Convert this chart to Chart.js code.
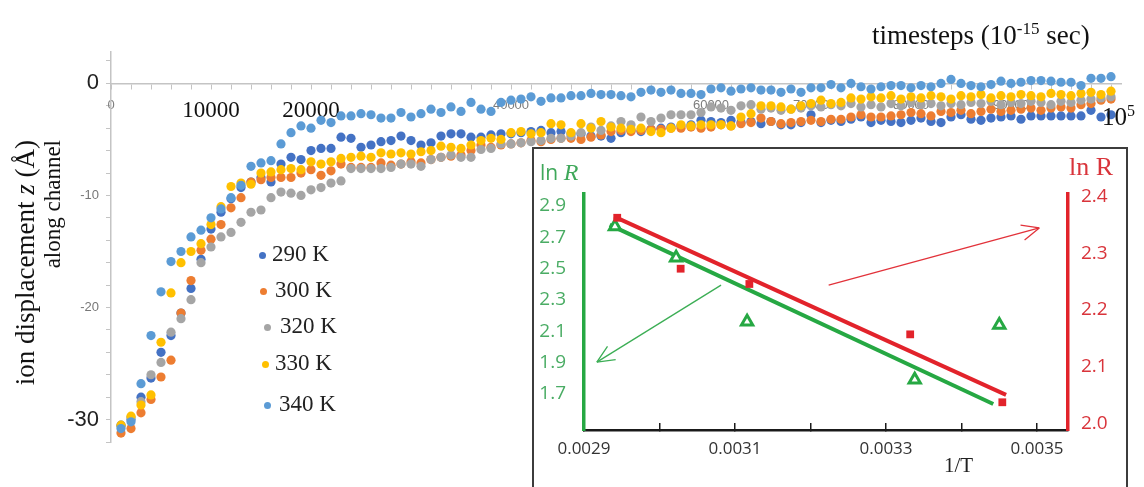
<!DOCTYPE html>
<html>
<head>
<meta charset="utf-8">
<title>Ion displacement along channel</title>
<script src="https://cdn.jsdelivr.net/npm/chart.js@4.4.1/dist/chart.umd.min.js"></script>
<style>
  body { margin: 0; background: #fff; }
  #page { position: relative; width: 1144px; height: 487px; overflow: hidden; background: #fff; }
  #mainWrap { position: absolute; left: 0; top: 0; width: 1144px; height: 487px; }
  #yTitle {
    position: absolute; left: -90px; top: 242px; width: 260px; height: 56px;
    transform: rotate(-90deg); text-align: right; white-space: nowrap;
    font: 23px/26px "Liberation Serif", serif; color: #111;
  }
  #yTitle .first { font-size: 27px; }
  #xTitle { position: absolute; left: 872px; top: 19px; font: 27px "Liberation Serif", serif; color: #111; white-space: nowrap; }
  #xTitle sup { font-size: 17px; }
  #xEnd { position: absolute; left: 1102px; top: 102px; font: 25px "Liberation Serif", serif; color: #111; white-space: nowrap; }
  #xEnd sup { font-size: 16px; }
  .legend-item { position: absolute; height: 28px; line-height: 28px; font: 23px "Liberation Serif", serif; color: #222; white-space: nowrap; }
  .legend-dot { position: absolute; width: 7px; height: 7px; border-radius: 50%; }
  #insetBox { position: absolute; left: 532px; top: 147px; width: 592px; height: 345px; border: 2px solid #3c3c3c; background: #fff; }
  #insetWrap { position: absolute; left: 0; top: 0; width: 592px; height: 340px; }
  #lnLeft { position: absolute; left: 6px; top: 9px; font: 21px "Open Sans", sans-serif; color: #3fa85a; }
  #lnLeft i { font: italic 24px "Liberation Serif", serif; }
  #lnRight { position: absolute; left: 535px; top: 3px; font: 26px "Liberation Serif", serif; color: #d9343b; }
  #invT { position: absolute; left: 410px; top: 304px; font: 21px "Liberation Serif", serif; color: #222; }
</style>
</head>
<body>
<div id="page">
  <div id="mainWrap"><canvas id="mainChart"></canvas></div>
  <div id="yTitle"><span class="first">ion displacement <i>z</i> (Å)</span><br>along channel</div>
  <div id="xTitle">timesteps (10<sup>-15</sup> sec)</div>
  <div id="xEnd">10<sup>5</sup></div>
  <div id="legend"></div>
  <div id="insetBox">
    <div id="insetWrap"><canvas id="insetChart"></canvas></div>
    <div id="lnLeft">ln <i>R</i></div>
    <div id="lnRight">ln R</div>
    <div id="invT">1/T</div>
  </div>
</div>
<script>
// ---- main chart data: displacement z (Å) sampled every 1000 timesteps ----
const timesteps = Array.from({ length: 100 }, (_, i) => (i + 1) * 1000);

const z290 = [-30.5,-30.0,-28.0,-26.3,-24.0,-22.5,-20.5,-18.3,-15.7,-13.0,
  -11.5,-10.3,-9.3,-8.8,-8.4,-8.8,-7.2,-6.6,-6.8,-6.0,
  -5.8,-5.8,-4.8,-4.9,-5.7,-5.5,-5.2,-5.1,-4.7,-5.1,
  -5.5,-5.3,-4.7,-4.5,-4.5,-4.8,-4.8,-4.6,-4.5,-4.5,
  -4.4,-4.3,-4.2,-4.4,-4.3,-4.5,-4.5,-4.7,-4.7,-4.9,
  -4.4,-4.2,-4.3,-4.1,-4.0,-3.9,-3.8,-3.7,-3.3,-3.4,
  -3.5,-3.3,-3.5,-3.4,-3.6,-3.4,-3.7,-3.7,-3.5,-2.8,
  -3.5,-3.3,-3.4,-3.2,-3.0,-3.5,-3.3,-3.4,-3.5,-3.3,
  -3.1,-3.4,-3.5,-3.0,-2.8,-3.2,-3.3,-3.1,-3.0,-2.9,
  -3.2,-2.9,-2.9,-2.9,-2.9,-2.9,-2.9,-2.4,-3.0,-2.8];

const z300 = [-31.2,-30.8,-29.4,-28.2,-26.2,-24.7,-20.5,-17.6,-14.9,-13.9,
  -12.6,-11.1,-10.2,-8.8,-8.6,-8.4,-8.4,-8.4,-8.0,-7.7,
  -8.2,-7.8,-7.2,-7.5,-7.5,-7.5,-7.1,-7.3,-7.2,-7.0,
  -7.1,-6.8,-6.6,-6.5,-6.4,-6.0,-5.5,-5.7,-5.5,-5.4,
  -5.3,-5.1,-5.2,-5.0,-4.9,-4.9,-5.0,-4.8,-4.6,-4.3,
  -4.2,-4.3,-4.2,-4.1,-4.1,-4.0,-4.0,-3.9,-4.0,-3.9,
  -3.7,-3.8,-3.6,-3.5,-3.1,-3.4,-3.6,-3.5,-3.4,-3.3,
  -3.4,-3.2,-3.2,-3.0,-2.8,-3.0,-3.0,-2.9,-2.8,-2.6,
  -2.7,-2.9,-2.5,-2.6,-2.4,-2.7,-2.5,-2.3,-2.5,-2.4,
  -2.3,-2.2,-2.4,-2.2,-2.1,-2.2,-1.9,-1.8,-1.5,-1.4];

const z320 = [-30.6,-29.8,-28.4,-26.0,-24.9,-22.2,-21.0,-19.3,-16.0,-14.6,
  -13.7,-13.3,-12.4,-11.5,-11.3,-10.2,-9.7,-9.8,-10.0,-9.5,
  -9.3,-8.9,-8.7,-7.6,-7.6,-7.6,-7.6,-7.5,-7.2,-7.2,
  -7.4,-6.8,-6.6,-6.4,-6.6,-6.6,-5.9,-5.8,-5.4,-5.4,
  -5.3,-5.2,-5.1,-4.9,-4.9,-4.7,-4.4,-3.9,-4.2,-3.8,
  -3.4,-3.7,-3.0,-3.4,-3.1,-2.8,-2.8,-2.8,-2.6,-2.1,
  -2.2,-2.4,-2.0,-1.9,-2.3,-2.2,-2.4,-2.3,-2.2,-2.0,
  -2.1,-1.9,-2.0,-1.8,-2.1,-1.9,-2.1,-1.8,-2.0,-1.7,
  -1.9,-1.8,-2.0,-1.8,-1.9,-1.7,-1.8,-1.6,-1.9,-1.7,
  -1.8,-1.6,-1.7,-1.9,-1.6,-1.7,-1.5,-1.4,-1.3,-1.2];

const z330 = [-30.5,-29.7,-28.7,-27.8,-23.1,-18.7,-16.0,-15.0,-14.3,-12.6,
  -11.0,-9.2,-8.9,-9.0,-8.0,-7.9,-7.7,-7.6,-7.7,-7.0,
  -7.2,-7.0,-6.7,-6.6,-6.5,-6.6,-6.2,-6.3,-6.2,-6.3,
  -6.1,-6.0,-5.6,-5.7,-5.8,-5.5,-5.1,-4.9,-5.0,-4.4,
  -4.3,-4.5,-4.4,-3.6,-3.7,-4.4,-3.6,-4.0,-3.4,-3.9,
  -4.0,-4.1,-4.0,-4.3,-4.4,-4.0,-3.7,-3.8,-3.7,-3.7,
  -3.7,-3.8,-3.0,-2.7,-2.0,-2.0,-2.1,-2.3,-2.0,-1.8,
  -1.5,-1.8,-1.7,-1.3,-1.4,-1.2,-1.3,-1.1,-1.4,-1.2,
  -1.3,-1.1,-1.2,-1.4,-1.1,-1.2,-1.0,-1.3,-1.1,-1.2,
  -1.0,-1.1,-1.2,-0.9,-1.0,-1.1,-0.9,-0.8,-1.0,-0.7];

const z340 = [-30.8,-30.2,-26.8,-22.5,-18.6,-15.9,-15.0,-13.7,-13.1,-12.0,
  -11.2,-10.2,-9.1,-7.4,-7.1,-6.9,-5.4,-4.4,-3.8,-4.0,
  -3.3,-3.5,-2.9,-2.9,-2.7,-2.8,-3.1,-3.1,-2.6,-3.0,
  -2.7,-2.3,-2.6,-2.1,-2.5,-1.7,-2.3,-2.5,-1.7,-1.5,
  -1.4,-1.2,-1.6,-1.3,-1.3,-1.1,-1.1,-0.9,-1.0,-1.0,
  -1.1,-1.2,-0.8,-0.6,-0.8,-0.6,-0.9,-0.9,-1.0,-0.5,
  -0.4,-0.7,-0.5,-0.4,-0.6,-0.6,-0.8,-0.5,-0.8,-0.4,
  -0.4,-0.1,-0.4,0.0,-0.3,-0.5,-0.3,-0.2,-0.2,-0.4,
  -0.2,-0.3,0.0,0.35,0.0,-0.2,-0.3,-0.1,0.2,0.0,
  0.1,0.25,0.25,0.2,0.1,0.1,-0.2,0.45,0.45,0.6];

const seriesNames = ['290 K', '300 K', '320 K', '330 K', '340 K'];
const seriesValues = [z290, z300, z320, z330, z340];
const seriesColors = ['#4472c4', '#ed7d31', '#a5a5a5', '#ffc000', '#5b9bd5'];
// legend placement (dot x, text x, row centre y)
const legendDotX = [262, 263, 267, 265, 267];
const legendTextX = [272, 275, 280, 275, 279];
const legendRowY = [255, 291, 327, 364, 405];

// x axis: minor tick every 2000 timesteps, labels at a few of them
const xMinorTicks = Array.from({ length: 51 }, (_, i) => i * 2000);
const xTickValues = [0, 10000, 20000, 40000, 60000, 70000, 80000, 90000];
const xTickText = ['0', '10000', '20000', '40000', '60000', '70000', '80000', '90000'];
const xBigTicks = [10000, 20000];
const yTickValues = [0, -10, -20, -30];
const yBigTicks = [0, -30];

// ---- inset data: ln R against 1/T ----
const invTGreen = [0.002941, 0.003022, 0.003116, 0.003338, 0.003450];
const lnRGreen = [2.77, 2.57, 2.16, 1.79, 2.14];
const invTRed = [0.002944, 0.003028, 0.003119, 0.003332, 0.003454];
const lnRRed = [2.363, 2.273, 2.246, 2.157, 2.037];
const greenFitX = [0.002934, 0.003442];
const greenFitY = [2.78, 1.635];
const redFitX = [0.002940, 0.003459];
const redFitY = [2.365, 2.05];
const greenArrowX = [0.0030815, 0.002917];
const greenArrowY = [2.395, 1.903];
const redArrowX = [0.003224, 0.003503];
const redArrowY = [2.244, 2.345];
const insetXTicks = [0.0029, 0.0030, 0.0031, 0.0032, 0.0033, 0.0034, 0.0035];
const insetXLabels = ['0.0029', '', '0.0031', '', '0.0033', '', '0.0035'];
const leftTicks = [1.7, 1.9, 2.1, 2.3, 2.5, 2.7, 2.9];
const rightTicks = [2.0, 2.1, 2.2, 2.3, 2.4];

const green = '#26a843';
const greenText = '#4aac64';
const red = '#e2232b';
const redText = '#d9343b';

function pairUp(xs, ys) {
    return xs.map((x, i) => ({ x: x, y: ys[i] }));
}

// legend
const legendEl = document.getElementById('legend');
seriesNames.forEach((name, i) => {
    const dot = document.createElement('span');
    dot.className = 'legend-dot';
    dot.style.left = (legendDotX[i] - 3) + 'px';
    dot.style.top = (legendRowY[i] - 3) + 'px';
    dot.style.background = seriesColors[i];
    legendEl.appendChild(dot);
    const item = document.createElement('div');
    item.className = 'legend-item';
    item.style.left = legendTextX[i] + 'px';
    item.style.top = (legendRowY[i] - 14) + 'px';
    item.textContent = name;
    legendEl.appendChild(item);
});

// main scatter chart
const mainDatasets = seriesNames.map((name, i) => ({
    label: name,
    data: timesteps.map((t, k) => ({ x: t, y: seriesValues[i][k] })),
    backgroundColor: seriesColors[i],
    borderColor: seriesColors[i],
    pointRadius: 4.6,
    pointBorderWidth: 0,
    order: seriesNames.length - i
}));

new Chart(document.getElementById('mainChart'), {
    type: 'scatter',
    data: { datasets: mainDatasets },
    options: {
        responsive: true,
        maintainAspectRatio: false,
        animation: false,
        events: [],
        layout: { padding: { top: 52, right: 23, bottom: 45, left: 0 } },
        plugins: { legend: { display: false }, tooltip: { enabled: false } },
        scales: {
            x: {
                type: 'linear',
                position: { y: 0 },
                min: 0,
                max: 101000,
                afterBuildTicks: (scale) => { scale.ticks = xMinorTicks.map(v => ({ value: v })); },
                border: { color: '#c4c4c4', width: 1.5 },
                grid: { drawOnChartArea: false, color: '#c4c4c4', tickLength: 5 },
                ticks: {
                    autoSkip: false,
                    maxRotation: 0,
                    padding: 9,
                    callback: (v) => {
                        const idx = xTickValues.indexOf(v);
                        return idx >= 0 ? xTickText[idx] : '';
                    },
                    font: (ctx) => (ctx.tick && xBigTicks.includes(ctx.tick.value))
                        ? { family: 'Liberation Serif', size: 23 }
                        : { family: 'Liberation Sans', size: 13 },
                    color: (ctx) => (ctx.tick && xBigTicks.includes(ctx.tick.value)) ? '#111' : '#7d7d7d'
                }
            },
            y: {
                type: 'linear',
                min: -32,
                max: 2.8,
                afterFit: (scale) => { scale.width = 111; },
                border: { color: '#c4c4c4', width: 1.5 },
                grid: { drawOnChartArea: false, color: '#c4c4c4', tickLength: 5 },
                ticks: {
                    stepSize: 2,
                    includeBounds: false,
                    autoSkip: false,
                    padding: 7,
                    callback: (v) => yTickValues.includes(v) ? String(v) : '',
                    font: (ctx) => (ctx.tick && yBigTicks.includes(ctx.tick.value))
                        ? { family: 'Liberation Sans', size: 22 }
                        : { family: 'Liberation Sans', size: 13 },
                    color: (ctx) => (ctx.tick && yBigTicks.includes(ctx.tick.value)) ? '#222' : '#777'
                }
            }
        }
    }
});

// open V arrowheads at the end of datasets flagged with arrow: true
const arrowHeads = {
    id: 'arrowHeads',
    afterDatasetsDraw(chart) {
        const ctx = chart.ctx;
        chart.data.datasets.forEach((ds, i) => {
            if (!ds.arrow) return;
            const pts = chart.getDatasetMeta(i).data;
            const a = pts[pts.length - 2];
            const b = pts[pts.length - 1];
            const ang = Math.atan2(b.y - a.y, b.x - a.x);
            ctx.save();
            ctx.strokeStyle = ds.borderColor;
            ctx.lineWidth = ds.borderWidth;
            ctx.beginPath();
            [-0.42, 0.42].forEach(d => {
                ctx.moveTo(b.x, b.y);
                ctx.lineTo(b.x - 19 * Math.cos(ang + d), b.y - 19 * Math.sin(ang + d));
            });
            ctx.stroke();
            ctx.restore();
        });
    }
};

new Chart(document.getElementById('insetChart'), {
    type: 'scatter',
    data: {
        datasets: [
            { label: 'ln R (left)', data: pairUp(invTGreen, lnRGreen), yAxisID: 'yL',
              pointStyle: 'triangle', pointRadius: 6.5, pointBorderWidth: 3,
              borderColor: green, backgroundColor: '#fff', order: 1 },
            { label: 'ln R (right)', data: pairUp(invTRed, lnRRed), yAxisID: 'yR',
              pointStyle: 'rect', pointRadius: 5.5, pointBorderWidth: 0,
              borderColor: red, backgroundColor: red, order: 0 },
            { label: 'fit left', data: pairUp(greenFitX, greenFitY), yAxisID: 'yL', showLine: true,
              borderColor: green, borderWidth: 4, pointRadius: 0, order: 3 },
            { label: 'fit right', data: pairUp(redFitX, redFitY), yAxisID: 'yR', showLine: true,
              borderColor: red, borderWidth: 4, pointRadius: 0, order: 2 },
            { label: 'arrow left', data: pairUp(greenArrowX, greenArrowY), yAxisID: 'yL', showLine: true,
              borderColor: '#3cae55', borderWidth: 1.3, pointRadius: 0, arrow: true, order: 4 },
            { label: 'arrow right', data: pairUp(redArrowX, redArrowY), yAxisID: 'yR', showLine: true,
              borderColor: '#e2323a', borderWidth: 1.3, pointRadius: 0, arrow: true, order: 5 }
        ]
    },
    options: {
        responsive: true,
        maintainAspectRatio: false,
        animation: false,
        events: [],
        layout: { padding: { top: 45, right: 0, bottom: 0, left: 0 } },
        plugins: { legend: { display: false }, tooltip: { enabled: false } },
        scales: {
            x: {
                type: 'linear',
                min: 0.0029,
                max: 0.003541,
                afterFit: (scale) => { scale.height = 59; },
                afterBuildTicks: (scale) => { scale.ticks = insetXTicks.map(v => ({ value: v })); },
                border: { color: '#1a1a1a', width: 2.5 },
                grid: { drawOnChartArea: false, color: '#1a1a1a', lineWidth: 1.5, tickLength: -7 },
                ticks: {
                    autoSkip: false,
                    maxRotation: 0,
                    padding: 16,
                    callback: (v, i) => insetXLabels[i],
                    font: { family: 'Open Sans', size: 17 },
                    color: '#333'
                }
            },
            yL: {
                type: 'linear',
                position: 'left',
                min: 1.469,
                max: 2.977,
                afterFit: (scale) => { scale.width = 50; },
                afterBuildTicks: (scale) => { scale.ticks = leftTicks.map(v => ({ value: v })); },
                border: { color: green, width: 3.5 },
                grid: { display: false },
                ticks: {
                    padding: 10,
                    callback: (v) => v.toFixed(1),
                    font: { family: 'Open Sans', size: 19 },
                    color: greenText
                }
            },
            yR: {
                type: 'linear',
                position: 'right',
                min: 1.988,
                max: 2.405,
                afterFit: (scale) => { scale.width = 58; },
                afterBuildTicks: (scale) => { scale.ticks = rightTicks.map(v => ({ value: v })); },
                border: { color: red, width: 3.5 },
                grid: { display: false },
                ticks: {
                    padding: 5,
                    callback: (v) => v.toFixed(1),
                    font: { family: 'Open Sans', size: 19 },
                    color: redText
                }
            }
        }
    },
    plugins: [arrowHeads]
});
</script>
</body>
</html>
